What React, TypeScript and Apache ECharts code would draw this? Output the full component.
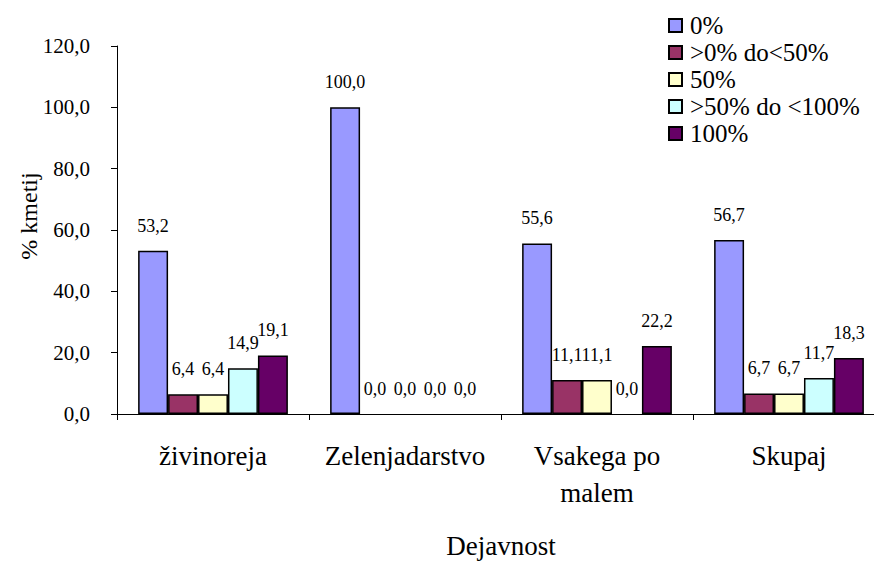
import React, { useEffect, useRef } from "react";
import * as echarts from "echarts";

const categories = ["živinoreja", "Zelenjadarstvo", "Vsakega po\nmalem", "Skupaj"];
const seriesNames = ["0%", ">0% do<50%", "50%", ">50% do <100%", "100%"];
const s0 = [53.2, 100.0, 55.6, 56.7];
const s1 = [6.4, 0.0, 11.1, 6.7];
const s2 = [6.4, 0.0, 11.1, 6.7];
const s3 = [14.9, 0.0, 0.0, 11.7];
const s4 = [19.1, 0.0, 22.2, 18.3];
const seriesValues = [s0, s1, s2, s3, s4];
const colors = ["#9999FF", "#993366", "#FFFFCC", "#CCFFFF", "#660066"];
const yTicks = { min: 0, max: 120, interval: 20 };

const FONT = "'Liberation Serif', 'Times New Roman', serif";
const fmt = (v: number) => v.toFixed(1).replace(".", ",");

export default function App() {
  const ref = useRef<HTMLDivElement>(null);
  useEffect(() => {
    if (!ref.current) return;
    const chart = echarts.init(ref.current, null, { renderer: "svg" });
    chart.setOption({
      animation: false,
      backgroundColor: "#ffffff",
      textStyle: { fontFamily: FONT, color: "#000" },
      legend: {
        orient: "vertical",
        left: 663,
        top: 8,
        itemWidth: 13,
        itemHeight: 13,
        itemGap: 2,
        icon: "rect",
        textStyle: {
          fontFamily: FONT,
          fontSize: 25,
          lineHeight: 25,
          color: "#000",
          padding: [0, 0, 0, 3],
        },
        data: seriesNames,
      },
      grid: {
        left: 117,
        top: 46,
        width: 768,
        height: 368,
        containLabel: false,
        outerBoundsMode: "none",
      },
      xAxis: {
        type: "category",
        data: categories,
        axisLine: { lineStyle: { color: "#000", width: 1 } },
        axisTick: { show: true, length: 6, lineStyle: { color: "#000" } },
        axisLabel: {
          fontFamily: FONT,
          fontSize: 27,
          lineHeight: 37,
          color: "#000",
          margin: 23,
          interval: 0,
        },
        name: "Dejavnost",
        nameLocation: "middle",
        nameGap: 117,
        nameTextStyle: { fontFamily: FONT, fontSize: 27, lineHeight: 29, color: "#000" },
      },
      yAxis: {
        type: "value",
        min: yTicks.min,
        max: yTicks.max,
        interval: yTicks.interval,
        axisLine: { show: true, lineStyle: { color: "#000", width: 1 } },
        axisTick: { show: true, length: 6, lineStyle: { color: "#000" } },
        splitLine: { show: false },
        axisLabel: {
          fontFamily: FONT,
          fontSize: 21,
          color: "#000",
          margin: 27,
          formatter: (v: number) => fmt(v),
        },
      },
      graphic: [
        {
          type: "text",
          x: 29,
          y: 216,
          rotation: Math.PI / 2,
          style: {
            text: "% kmetij",
            fontFamily: FONT,
            fontSize: 24,
            fill: "#000",
            align: "center",
            verticalAlign: "middle",
          },
        },
      ],
      series: seriesValues.map((vals, i) => ({
        name: seriesNames[i],
        type: "bar",
        data: vals.map((v) => ({
          value: v,
          itemStyle: v === 0 ? { borderWidth: 0 } : undefined,
        })),
        barGap: "0%",
        barCategoryGap: "22%",
        itemStyle: { color: colors[i], borderColor: "#000", borderWidth: 1.5 },
        label: {
          show: true,
          position: "top",
          distance: 16,
          fontFamily: FONT,
          fontSize: 18,
          color: "#000",
          formatter: (p: any) => fmt(p.value),
        },
      })),
    });
    return () => chart.dispose();
  }, []);
  return (
    <div
      ref={ref}
      style={{ position: "fixed", left: 0, top: 0, width: 874, height: 562 }}
    />
  );
}
